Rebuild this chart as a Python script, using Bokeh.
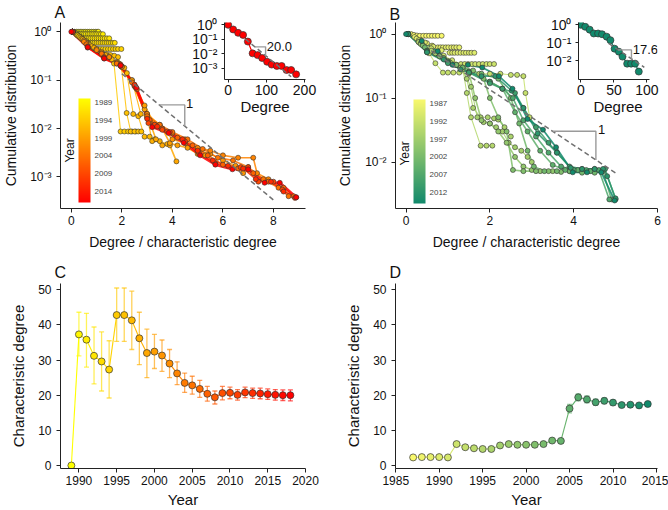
import math
from bokeh.plotting import figure
from bokeh.models import Range1d, FixedTicker, Label, ColorBar, LinearColorMapper, GridBox, AllLabels
from bokeh.embed import file_html
from bokeh.resources import INLINE

# ---------------- data: panel C (characteristic degree, series A network) ----------------
c_years = [1989, 1990, 1991, 1992, 1993, 1994, 1995, 1996, 1997, 1998, 1999, 2000, 2001, 2002, 2003,
           2004, 2005, 2006, 2007, 2008, 2009, 2010, 2011, 2012, 2013, 2014, 2015, 2016, 2017, 2018]
c_vals = [0.0, 37.3, 35.8, 31.2, 29.6, 27.3, 42.8, 42.8, 41.3, 36.2, 32.0, 32.4, 31.3, 29.0, 26.2,
          23.5, 22.8, 21.8, 20.4, 19.4, 20.6, 20.7, 20.1, 20.8, 20.6, 20.5, 20.3, 20.1, 20.0, 20.0]
c_lo = [float("nan"), 31.2, 28.0, 23.2, 21.2, 19.2, 35.3, 35.3, 33.0, 28.7, 25.0, 27.6, 26.8, 25.0, 23.0,
        20.8, 20.3, 19.4, 18.3, 17.5, 18.7, 19.0, 18.6, 19.3, 19.1, 19.0, 18.8, 18.6, 18.5, 18.4]
c_hi = [float("nan"), 43.6, 43.3, 39.4, 38.0, 35.5, 50.5, 50.5, 49.6, 43.6, 38.8, 37.3, 35.7, 33.0, 29.5,
        26.3, 25.4, 24.2, 22.5, 21.2, 22.5, 22.3, 21.6, 22.3, 22.0, 22.0, 21.8, 21.6, 21.5, 21.5]

# ---------------- data: panel D ----------------
d_years = [1987, 1988, 1989, 1990, 1991, 1992, 1993, 1994, 1995, 1996, 1997, 1998, 1999, 2000,
           2001, 2002, 2003, 2004, 2005, 2006, 2007, 2008, 2009, 2010, 2011, 2012, 2013, 2014]
d_vals = [2.3, 2.4, 2.4, 2.4, 2.3, 6.1, 5.2, 4.9, 4.7, 4.7, 5.7, 6.1, 5.9, 5.9,
          5.9, 6.1, 7.1, 7.0, 16.2, 19.4, 18.8, 18.0, 18.4, 17.9, 17.2, 17.3, 17.1, 17.5]
d_lo = [2.1, 2.2, 2.2, 2.2, 2.1, 5.8, 4.9, 4.6, 4.4, 4.4, 5.4, 5.8, 5.6, 5.6,
        5.6, 5.8, 6.7, 6.6, 15.0, 18.4, 17.8, 17.1, 17.6, 17.2, 16.6, 16.7, 16.5, 17.0]
d_hi = [2.5, 2.6, 2.6, 2.6, 2.5, 6.4, 5.5, 5.2, 5.0, 5.0, 6.0, 6.4, 6.2, 6.2,
        6.2, 6.4, 7.5, 7.4, 17.4, 20.4, 19.8, 18.9, 19.2, 18.6, 17.8, 17.9, 17.7, 18.0]

# ---------------- data: insets (degree, cumulative distribution) ----------------
ia_deg = [0, 13, 26, 39, 51.5, 64, 77, 89, 102, 114, 127.5, 140, 153, 165, 178]
ia_cdf = [1.0, 0.48, 0.28, 0.2, 0.07, 0.0107, 0.0081, 0.0051, 0.0028, 0.0018, 0.00144, 0.00144,
          0.00076, 0.00076, 0.00038]
ia_char = 20.0
ib_deg = [0, 6.6, 13.3, 19.5, 26, 32, 39, 44.7, 51, 57.5, 63, 70, 76, 82, 87.6]
ib_cdf = [1.0, 0.78, 0.54, 0.33, 0.33, 0.3, 0.22, 0.14, 0.047, 0.032, 0.017, 0.0069, 0.0069, 0.0069, 0.0025]
ib_char = 17.6

# ---------------- data: panel A (degree / characteristic degree, cumulative distribution) ----------------
a1990_x = [0.05, 0.12, 0.2, 0.27, 0.35, 0.42, 0.5, 0.57, 0.65, 0.72, 0.8, 0.87, 0.95, 1.02, 1.07]
a1990_y = [1.0, 1.0, 1.0, 1.0, 1.0, 1.0, 1.0, 1.0, 1.0, 1.0, 1.0, 1.0, 1.0, 1.0, 1.0]
a1991_x = [0.05, 0.13, 0.2, 0.27, 0.35, 0.42, 0.5, 0.57, 0.65, 0.72, 0.8, 0.87, 0.95, 1.02, 1.1, 1.17, 1.25]
a1991_y = [1.0, 0.97, 0.93, 0.89, 0.89, 0.89, 0.89, 0.89, 0.89, 0.89, 0.89, 0.89, 0.89, 0.89, 0.89, 0.89, 0.89]
a1992_x = [0.05, 0.18, 0.3, 0.42, 0.52, 0.6, 0.68, 0.76, 0.84, 0.92, 1.0, 1.08, 1.16, 1.24, 1.32, 1.41, 1.5]
a1992_y = [1.0, 0.9, 0.82, 0.76, 0.73, 0.73, 0.73, 0.73, 0.73, 0.73, 0.73, 0.73, 0.73, 0.73, 0.73, 0.73, 0.73]
a1993_x = [0.05, 0.22, 0.4, 0.58, 0.76, 0.84, 0.92, 1.0, 1.08, 1.16, 1.24, 1.32, 1.4, 1.48, 1.56, 1.64, 1.72]
a1993_y = [1.0, 0.86, 0.74, 0.65, 0.59, 0.59, 0.59, 0.59, 0.59, 0.59, 0.59, 0.59, 0.59, 0.59, 0.59, 0.59, 0.59]
a1994_x = [0.05, 0.25, 0.45, 0.65, 0.85, 0.95, 1.05, 1.15, 1.25, 1.35, 1.45, 1.55, 1.65, 1.75, 1.85, 1.98]
a1994_y = [1.0, 0.84, 0.7, 0.58, 0.48, 0.44, 0.44, 0.44, 0.44, 0.44, 0.44, 0.44, 0.44, 0.44, 0.44, 0.44]
a1995_x = [0.05, 0.3, 0.6, 0.9, 1.2, 1.35, 1.5, 1.6, 1.69, 1.95, 2.1, 2.25, 2.4, 2.55]
a1995_y = [1.0, 0.8, 0.6, 0.46, 0.36, 0.33, 0.32, 0.3, 0.22, 0.0087, 0.0087, 0.0087, 0.0087, 0.0087]
a1996_x = [0.05, 0.35, 0.7, 1.0, 1.2, 1.4, 1.55, 1.7, 1.85, 1.98, 2.19, 2.35, 2.5, 2.65, 2.77]
a1996_y = [1.0, 0.76, 0.55, 0.42, 0.36, 0.34, 0.33, 0.32, 0.3, 0.19, 0.021, 0.0087, 0.0087, 0.0087, 0.0087]
a1997_x = [0.05, 0.4, 0.8, 1.2, 1.6, 1.9, 2.2, 2.45, 2.65, 2.9, 3.1, 3.3]
a1997_y = [1.0, 0.72, 0.5, 0.36, 0.27, 0.22, 0.14, 0.02, 0.018, 0.0068, 0.0068, 0.006]
a1998_x = [0.05, 0.45, 0.9, 1.35, 1.8, 2.1, 2.4, 2.75, 3.0, 3.2, 3.5, 3.8]
a1998_y = [1.0, 0.7, 0.47, 0.33, 0.24, 0.18, 0.1, 0.02, 0.017, 0.0055, 0.0055, 0.0048]
a1999_x = [0.05, 0.5, 1.0, 1.5, 2.0, 2.5, 2.9, 3.1, 3.35, 3.6, 3.9, 4.16]
a1999_y = [1.0, 0.66, 0.44, 0.3, 0.19, 0.08, 0.025, 0.014, 0.006, 0.0045, 0.0045, 0.0021]
a2000_x = [0.05, 0.6, 1.2, 1.8, 2.4, 2.9, 3.3, 3.6, 3.9, 4.2, 4.6, 5.0, 5.3]
a2000_y = [1.0, 0.6, 0.38, 0.23, 0.1, 0.03, 0.012, 0.01, 0.005, 0.0045, 0.004, 0.003, 0.0028]
a2001_x = [0.05, 0.6, 1.2, 1.8, 2.5, 3.0, 3.5, 4.0, 4.5, 5.0, 5.5, 6.0, 6.5, 6.8]
a2001_y = [1.0, 0.58, 0.36, 0.22, 0.08, 0.02, 0.012, 0.006, 0.005, 0.0035, 0.003, 0.0022, 0.0017, 0.0012]
a2003_x = [0.05, 0.5, 1.0, 1.5, 2.0, 2.5, 3.0, 3.5, 4.0, 4.5, 5.0, 5.5, 6.0, 6.6, 7.2, 7.35, 7.8]
a2003_y = [1.0, 0.62, 0.42, 0.3, 0.19, 0.075, 0.02, 0.011, 0.008, 0.006, 0.004, 0.0035, 0.0028, 0.0025,
           0.0025, 0.0012, 0.0009]
a2005_x = [0.05, 0.6, 1.2, 1.8, 2.4, 3.0, 3.5, 4.0, 4.6, 5.2, 5.8, 6.4, 7.0, 7.6, 8.2, 8.6]
a2005_y = [1.0, 0.55, 0.35, 0.22, 0.09, 0.018, 0.012, 0.0085, 0.006, 0.0038, 0.0025, 0.0022, 0.0016,
           0.0009, 0.0006, 0.0004]
a2007_x = [0.05, 0.65, 1.3, 1.95, 2.6, 3.1, 3.6, 4.2, 4.8, 5.4, 6.0, 6.6, 7.2, 7.8, 8.4, 8.8]
a2007_y = [1.0, 0.5, 0.3, 0.2, 0.065, 0.015, 0.01, 0.0065, 0.0045, 0.0028, 0.0018, 0.0015, 0.0012,
           0.0008, 0.0006, 0.0004]
a2010_x = [0.05, 0.65, 1.3, 1.95, 2.55, 3.05, 3.3, 3.6, 3.8, 4.5, 5.05, 5.7, 6.7, 7.0, 7.4, 8.0, 8.35, 8.85]
a2010_y = [1.0, 0.48, 0.28, 0.2, 0.07, 0.013, 0.012, 0.0094, 0.0087, 0.0054, 0.0031, 0.0019, 0.0016,
           0.0016, 0.0008, 0.0008, 0.00055, 0.00037]
a2013_x = [0.05, 0.65, 1.3, 1.95, 2.5, 3.0, 3.4, 3.9, 4.4, 5.0, 5.6, 6.2, 6.8, 7.3, 7.9, 8.4, 8.9]
a2013_y = [1.0, 0.47, 0.29, 0.21, 0.08, 0.016, 0.011, 0.0085, 0.006, 0.0035, 0.0022, 0.0017, 0.0015,
           0.0009, 0.0008, 0.0005, 0.00038]

# ---------------- data: panel B ----------------
b1987_x = [0.05, 0.12, 0.19, 0.26, 0.33, 0.41, 0.48, 0.55, 0.62, 0.69, 0.76, 0.85]
b1987_y = [1.0, 1.0, 0.97, 0.95, 0.94, 0.94, 0.94, 0.94, 0.94, 0.94, 0.94, 0.94]
b1989_x = [0.05, 0.2, 0.35, 0.5, 0.62, 0.76, 0.82, 0.88, 0.95, 1.01, 1.08, 1.14, 1.2, 1.27]
b1989_y = [1.0, 0.9, 0.8, 0.72, 0.66, 0.62, 0.62, 0.62, 0.62, 0.62, 0.62, 0.62, 0.62, 0.62]
b1990_x = [0.05, 0.25, 0.45, 0.65, 0.85, 1.04, 1.1, 1.16, 1.23, 1.3, 1.37, 1.43, 1.5, 1.56, 1.63]
b1990_y = [1.0, 0.85, 0.74, 0.64, 0.56, 0.51, 0.51, 0.51, 0.51, 0.51, 0.51, 0.51, 0.51, 0.51, 0.51]
b1992_x = [0.05, 0.3, 0.6, 0.9, 1.1, 1.31, 1.4, 1.48, 1.57, 1.65, 1.74, 1.83, 1.92, 2.0, 2.1]
b1992_y = [1.0, 0.8, 0.6, 0.46, 0.39, 0.34, 0.34, 0.34, 0.34, 0.34, 0.34, 0.34, 0.34, 0.34, 0.34]
b1993_x = [0.05, 0.3, 0.55, 0.7, 0.88, 1.0, 1.13, 1.27, 1.5, 1.75, 2.0, 2.25, 2.5, 2.65, 2.8, 2.85, 2.95]
b1993_y = [1.0, 0.75, 0.5, 0.35, 0.25, 0.25, 0.25, 0.25, 0.24, 0.24, 0.24, 0.24, 0.23, 0.23, 0.22, 0.12, 0.05]
b1995_x = [0.05, 0.3, 0.6, 0.9, 1.15, 1.35, 1.45, 1.55, 1.78, 1.92, 2.06]
b1995_y = [1.0, 0.75, 0.55, 0.42, 0.33, 0.3, 0.12, 0.05, 0.018, 0.018, 0.018]
b1996_x = [0.05, 0.35, 0.7, 1.0, 1.3, 1.45, 1.6, 1.78, 1.95, 2.1, 2.2, 2.35, 2.5]
b1996_y = [1.0, 0.72, 0.5, 0.38, 0.3, 0.2, 0.07, 0.05, 0.05, 0.048, 0.046, 0.035, 0.025]
b1997_x = [0.05, 0.35, 0.7, 1.05, 1.35, 1.55, 1.7, 1.85, 2.0, 2.15, 2.3, 2.45, 2.6, 2.75, 2.9, 3.0]
b1997_y = [1.0, 0.7, 0.5, 0.36, 0.28, 0.15, 0.05, 0.042, 0.04, 0.035, 0.03, 0.02, 0.017, 0.015, 0.012, 0.01]
b1999_x = [0.05, 0.4, 0.8, 1.2, 1.5, 1.65, 1.8, 2.0, 2.2, 2.4, 2.6, 2.8, 3.0, 3.2, 3.5, 3.9]
b1999_y = [1.0, 0.68, 0.46, 0.33, 0.25, 0.1, 0.045, 0.04, 0.03, 0.02, 0.012, 0.0085, 0.0075, 0.0072,
           0.0072, 0.0072]
b2001_x = [0.05, 0.4, 0.8, 1.2, 1.6, 1.85, 2.0, 2.2, 2.4, 2.55, 2.8, 3.1, 3.4, 3.7]
b2001_y = [1.0, 0.66, 0.45, 0.33, 0.27, 0.2, 0.1, 0.05, 0.03, 0.0075, 0.0072, 0.0072, 0.0072, 0.007]
b2003_x = [0.05, 0.45, 0.9, 1.35, 1.8, 2.2, 2.5, 2.7, 2.9, 3.05, 3.3, 3.6, 3.9, 4.2, 4.5]
b2003_y = [1.0, 0.62, 0.42, 0.3, 0.24, 0.2, 0.1, 0.04, 0.015, 0.0085, 0.0072, 0.0072, 0.0072, 0.0068, 0.0068]
b2005_x = [0.05, 0.5, 1.0, 1.5, 2.0, 2.3, 2.6, 2.9, 3.2, 3.5, 3.8, 4.1, 4.4, 4.7, 4.9]
b2005_y = [1.0, 0.55, 0.37, 0.26, 0.18, 0.14, 0.06, 0.03, 0.015, 0.009, 0.0075, 0.0075, 0.0072, 0.0072, 0.0026]
b2007_x = [0.05, 0.5, 1.0, 1.5, 2.0, 2.3, 2.55, 2.8, 3.1, 3.4, 3.7, 4.0, 4.3, 4.6, 4.85]
b2007_y = [1.0, 0.54, 0.36, 0.25, 0.18, 0.14, 0.1, 0.045, 0.025, 0.014, 0.0085, 0.0075, 0.0075, 0.0075, 0.0026]
b2009_x = [0.05, 0.5, 1.0, 1.5, 2.0, 2.3, 2.6, 2.8, 3.1, 3.4, 3.6, 3.9, 4.2, 4.5, 4.75, 5.0]
b2009_y = [1.0, 0.52, 0.35, 0.25, 0.17, 0.14, 0.12, 0.07, 0.035, 0.02, 0.014, 0.0085, 0.0078, 0.0078,
           0.0078, 0.0026]
b2011_x = [0.05, 0.5, 0.9, 1.3, 1.8, 2.13, 2.52, 2.8, 3.14, 3.6, 3.93, 4.2, 4.5, 4.7, 4.8, 5.0]
b2011_y = [1.0, 0.52, 0.4, 0.28, 0.22, 0.22, 0.13, 0.07, 0.028, 0.014, 0.0081, 0.0078, 0.0078, 0.0078,
           0.006, 0.0027]

# colour-bar tick years
cbA_years = [1989, 1994, 1999, 2004, 2009, 2014]
cbB_years = [1987, 1992, 1997, 2002, 2007, 2012]

# ---------------- styling helpers ----------------
FONT = "Liberation Sans"
A_C0, A_C1 = (255, 255, 0), (255, 0, 0)          # yellow -> red
B_C0, B_C1 = (248, 248, 108), (18, 138, 108)      # pale yellow -> teal green


def lerp_hex(c0, c1, t):
    return "#%02x%02x%02x" % tuple(int(round(a + (b - a) * t)) for a, b in zip(c0, c1))


def colA(year):
    return lerp_hex(A_C0, A_C1, (year - 1989) / (2018 - 1989))


def colB(year):
    return lerp_hex(B_C0, B_C1, (year - 1987) / (2014 - 1987))


SUP = {0: "10\u2070", 1: "10\u207b\u00b9", 2: "10\u207b\u00b2", 3: "10\u207b\u00b3"}


def style(p, tick_size="12px", label_size="14px"):
    p.xgrid.visible = False
    p.ygrid.visible = False
    p.outline_line_color = None
    for ax in p.axis:
        ax.axis_line_color = "#222222"
        ax.axis_line_width = 1
        ax.major_tick_line_color = "#222222"
        ax.major_tick_in = 0
        ax.major_tick_out = 4
        ax.minor_tick_line_color = None
        ax.major_label_text_font = FONT
        ax.major_label_text_font_size = tick_size
        ax.major_label_text_color = "#111111"
        ax.axis_label_text_font = FONT
        ax.axis_label_text_font_size = label_size
        ax.axis_label_text_font_style = "normal"
        ax.axis_label_text_color = "#111111"


def log_yaxis(p, decades, minor=True):
    ticks = [10.0 ** (-d) for d in decades]
    minors = []
    if minor:
        for e in range(-4, 1):
            for m in range(2, 10):
                minors.append(m * 10.0 ** e)
    p.yaxis.ticker = FixedTicker(ticks=ticks, minor_ticks=minors)
    p.yaxis.major_label_overrides = {t: SUP[d] for t, d in zip(ticks, decades)}
    if minor:
        p.yaxis.minor_tick_line_color = "#222222"
        p.yaxis.minor_tick_in = 0
        p.yaxis.minor_tick_out = 2


def letter(p, text, standoff):
    p.title.text = text
    p.title.align = "left"
    p.title.offset = -6
    p.title.standoff = standoff
    p.title.text_font = FONT
    p.title.text_font_size = "16px"
    p.title.text_font_style = "normal"
    p.title.text_color = "#111111"


def make(w, h, xr, yr, ylog, bl, br, bt, bb):
    return figure(width=w, height=h, x_range=Range1d(*xr), y_range=Range1d(*yr),
                  y_axis_type="log" if ylog else "linear", toolbar_location=None,
                  output_backend="svg", min_border_left=bl, min_border_right=br,
                  min_border_top=bt, min_border_bottom=bb)


def series_panel(p, series, colfun, lastwidth):
    n = len(series)
    for i, (yr, xs, ys) in enumerate(series):
        lw = lastwidth if i == n - 1 else (1.1 if i < n / 2 else 1.6)
        p.line(xs, ys, line_color=colfun(yr), line_width=lw, line_alpha=0.85)
    for yr, xs, ys in series:
        p.scatter(xs, ys, size=5, fill_color=colfun(yr), line_color="#333333", line_width=0.6)


def slope_triangle(p, x1, x2, scale, label, dx, fs):
    y1 = math.exp(-x1 / scale)
    y2 = math.exp(-x2 / scale)
    p.line([x1, x2, x2], [y1, y1, y2], line_color="#9a9a9a", line_width=1.4)
    p.add_layout(Label(x=x2 + dx, y=y1 * 1.08, text=label, text_font=FONT, text_font_size=fs,
                       text_baseline="middle", text_align="left", text_color="#111111"))


def fit_line(p, x0, x1, scale):
    p.line([x0, x1], [math.exp(-x0 / scale), math.exp(-x1 / scale)], line_color="#707070",
           line_width=1.5, line_dash="5 3")


def colorbar(p, colfun_lo, colfun_hi, low, high, years, loc, h):
    pal = [lerp_hex(colfun_lo, colfun_hi, i / 255) for i in range(256)]
    cb = ColorBar(color_mapper=LinearColorMapper(palette=pal, low=low, high=high),
                  orientation="vertical", location=loc, width=12, height=h, padding=0, margin=0,
                  ticker=FixedTicker(ticks=[-y for y in years]),
                  major_label_overrides={-y: str(y) for y in years},
                  major_label_policy=AllLabels(),
                  major_label_text_font=FONT, major_label_text_font_size="8px",
                  major_tick_line_color=None, minor_tick_line_color=None, bar_line_color=None,
                  border_line_color=None, background_fill_alpha=0, label_standoff=4)
    p.add_layout(cb)


def year_label(p, x, y):
    p.add_layout(Label(x=x, y=y, x_units="screen", y_units="screen", text="Year", angle=90,
                       angle_units="deg", text_align="center", text_baseline="middle",
                       text_font=FONT, text_font_size="12px", text_color="#111111"))


# ================= Panel A =================
pA = make(334, 256, (-0.428, 9.268), (10 ** -3.651, 10 ** 0.191), True, 59, 10, 22, 47)
A_series = [(1990, a1990_x, a1990_y), (1991, a1991_x, a1991_y), (1992, a1992_x, a1992_y),
            (1993, a1993_x, a1993_y), (1994, a1994_x, a1994_y), (1995, a1995_x, a1995_y),
            (1996, a1996_x, a1996_y), (1997, a1997_x, a1997_y), (1998, a1998_x, a1998_y),
            (1999, a1999_x, a1999_y), (2000, a2000_x, a2000_y), (2001, a2001_x, a2001_y),
            (2003, a2003_x, a2003_y), (2005, a2005_x, a2005_y), (2007, a2007_x, a2007_y),
            (2010, a2010_x, a2010_y), (2013, a2013_x, a2013_y),
            (2018, [d / ia_char for d in ia_deg], ia_cdf)]
series_panel(pA, A_series, colA, 2.6)
fit_line(pA, 2.0, 8.0, 1.0)
slope_triangle(pA, 3.48, 4.49, 1.0, "1", 0.05, "13px")
pA.xaxis.ticker = FixedTicker(ticks=[0, 2, 4, 6, 8])
log_yaxis(pA, [0, 1, 2, 3])
pA.xaxis.axis_label = "Degree / characteristic degree"
pA.yaxis.axis_label = "Cumulative distribution"
style(pA)
pA.xaxis.major_label_standoff = 3
pA.xaxis.axis_label_standoff = 6
pA.yaxis.major_label_standoff = 5
pA.yaxis.axis_label_standoff = 8
colorbar(pA, A_C1, A_C0, -2017.1, -1987.9, cbA_years, (18, 6), 104)
year_label(pA, 9.5, 58)
letter(pA, "A", 3)

# ================= Inset A =================
iA = make(148, 118, (-9.7, 202.6), (10 ** -3.775, 10 ** 0.161), True, 38, 29, 13, 39)
iA.background_fill_alpha = 0
iA.border_fill_alpha = 0
iA.line(ia_deg, ia_cdf, line_color=colA(2018), line_width=1.3)
iA.scatter(ia_deg, ia_cdf, size=7, fill_color=colA(2018), line_color="#333333", line_width=0.7)
fit_line(iA, 45, 165, ia_char)
slope_triangle(iA, 70, 98, ia_char, "%.1f" % ia_char, 3, "13px")
iA.xaxis.ticker = FixedTicker(ticks=[0, 100, 200])
log_yaxis(iA, [0, 1, 2, 3], minor=False)
iA.xaxis.axis_label = "Degree"
style(iA, tick_size="14px", label_size="15px")
iA.xaxis.major_tick_out = 3
iA.yaxis.major_tick_out = 3
iA.xaxis.major_label_standoff = 2
iA.xaxis.axis_label_standoff = 0
iA.yaxis.major_label_standoff = 4

# ================= Panel B =================
pB = make(334, 256, (-0.2515, 6.0), (10 ** -2.727, 10 ** 0.181), True, 58, 10, 20, 48)
B_series = [(1987, b1987_x, b1987_y), (1989, b1989_x, b1989_y), (1990, b1990_x, b1990_y),
            (1992, b1992_x, b1992_y), (1993, b1993_x, b1993_y), (1995, b1995_x, b1995_y),
            (1996, b1996_x, b1996_y), (1997, b1997_x, b1997_y), (1999, b1999_x, b1999_y),
            (2001, b2001_x, b2001_y), (2003, b2003_x, b2003_y), (2005, b2005_x, b2005_y),
            (2007, b2007_x, b2007_y), (2009, b2009_x, b2009_y), (2011, b2011_x, b2011_y),
            (2014, [d / ib_char for d in ib_deg], ib_cdf)]
series_panel(pB, B_series, colB, 1.8)
fit_line(pB, 0.6, 5.0, 1.0)
slope_triangle(pB, 3.5, 4.53, 1.0, "1", 0.05, "13px")
pB.xaxis.ticker = FixedTicker(ticks=[0, 2, 4, 6])
log_yaxis(pB, [0, 1, 2])
pB.xaxis.axis_label = "Degree / characteristic degree"
pB.yaxis.axis_label = "Cumulative distribution"
style(pB)
pB.xaxis.major_label_standoff = 3
pB.xaxis.axis_label_standoff = 6
pB.yaxis.major_label_standoff = 5
pB.yaxis.axis_label_standoff = 9
colorbar(pB, B_C1, B_C0, -2015.1, -1985.9, cbB_years, (18, 5), 104)
year_label(pB, 9, 55)
letter(pB, "B", 0)

# ================= Inset B =================
iB = make(128, 118, (-3.59, 115.9), (10 ** -3.043, 10 ** 0.13), True, 38, 0, 13, 39)
iB.background_fill_alpha = 0
iB.border_fill_alpha = 0
iB.line(ib_deg, ib_cdf, line_color=colB(2014), line_width=1.3)
iB.scatter(ib_deg, ib_cdf, size=7, fill_color=colB(2014), line_color="#333333", line_width=0.7)
fit_line(iB, 42, 96, ib_char)
slope_triangle(iB, 56.6, 76.5, ib_char, "%.1f" % ib_char, 2, "13px")
iB.xaxis.ticker = FixedTicker(ticks=[0, 50, 100])
iB.xaxis.bounds = (-3.59, 103.1)
log_yaxis(iB, [0, 1, 2], minor=False)
iB.xaxis.axis_label = "Degree"
style(iB, tick_size="14px", label_size="15px")
iB.xaxis.major_tick_out = 3
iB.yaxis.major_tick_out = 3
iB.xaxis.major_label_standoff = 2
iB.xaxis.axis_label_standoff = 0
iB.yaxis.major_label_standoff = 4


# ================= Panels C and D =================
def char_panel(p, years, vals, lo, hi, colfun):
    cols = [colfun(y) for y in years]
    p.segment(x0=years, y0=lo, x1=years, y1=hi, line_color=cols, line_width=1.3, line_alpha=0.65)
    p.scatter(x=years, y=hi, marker="dash", size=5, line_color=cols, line_width=1.3, line_alpha=0.65)
    p.scatter(x=years, y=lo, marker="dash", size=5, line_color=cols, line_width=1.3, line_alpha=0.65)
    p.segment(x0=years[:-1], y0=vals[:-1], x1=years[1:], y1=vals[1:], line_color=cols[:-1], line_width=1.1)
    p.scatter(x=years, y=vals, size=7, fill_color=cols, line_color="#333333", line_width=0.7)
    p.yaxis.ticker = FixedTicker(ticks=[0, 10, 20, 30, 40, 50])
    p.xaxis.axis_label = "Year"
    p.yaxis.axis_label = "Characteristic degree"
    style(p, tick_size="12px", label_size="15px")
    p.xaxis.major_label_standoff = 3
    p.xaxis.axis_label_standoff = 3
    p.yaxis.major_label_standoff = 5
    p.yaxis.axis_label_standoff = 8


pC = make(334, 254, (1987.561, 2020.0), (-0.849, 51.78), False, 59, 9, 27, 41)
char_panel(pC, c_years, c_vals, c_lo, c_hi, colA)
pC.xaxis.ticker = FixedTicker(ticks=[1990, 1995, 2000, 2005, 2010, 2015, 2020])
letter(pC, "C", 6)

pD = make(334, 254, (1984.97, 2015.12), (-0.849, 51.78), False, 58, 11, 27, 41)
char_panel(pD, d_years, d_vals, d_lo, d_hi, colB)
pD.xaxis.ticker = FixedTicker(ticks=[1985, 1990, 1995, 2000, 2005, 2010, 2015])
letter(pD, "D", 6)

grid = GridBox(children=[(pA, 0, 0, 2, 2), (pB, 0, 2, 2, 2), (pC, 2, 0, 1, 2), (pD, 2, 2, 1, 2),
                         (iA, 0, 1, 1, 1), (iB, 0, 3, 1, 1)],
               rows=["118px", "138px", "254px"], cols=["186px", "148px", "206px", "128px"], spacing=0)

open("out.html", "w").write(file_html(grid, INLINE))
